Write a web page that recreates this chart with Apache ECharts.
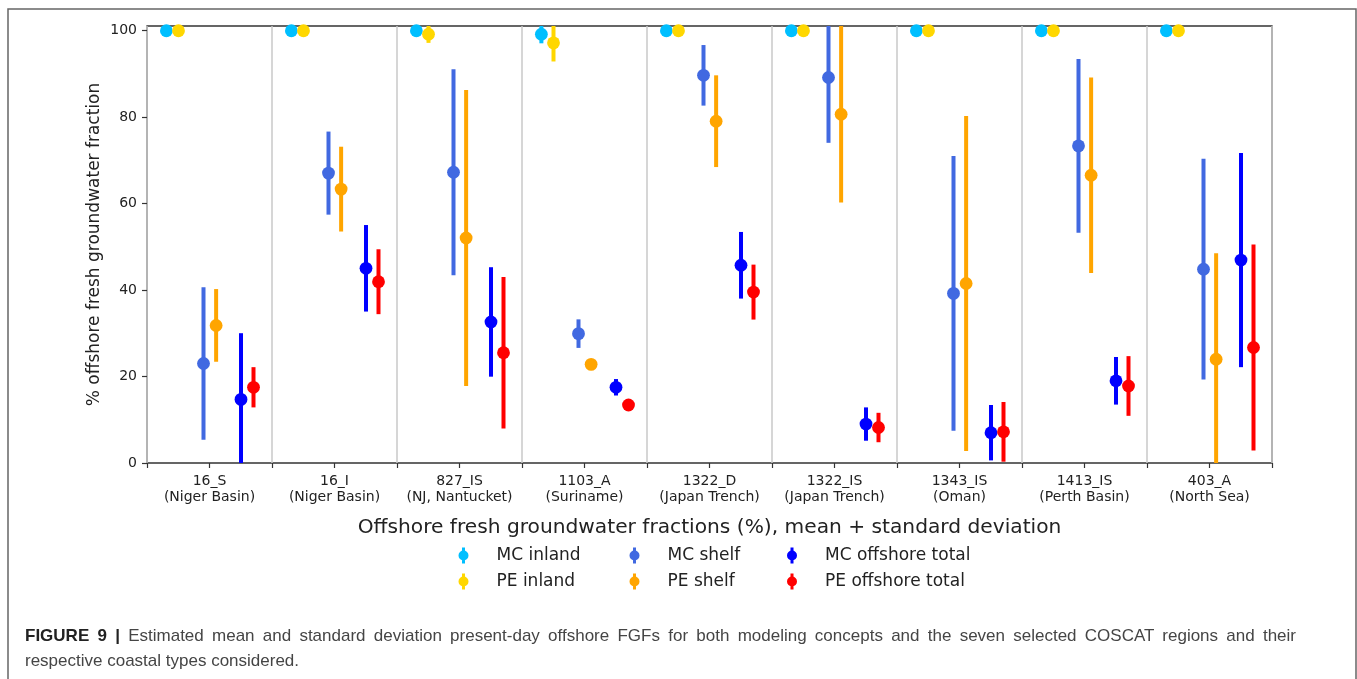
<!DOCTYPE html>
<html>
<head>
<meta charset="utf-8">
<script src="https://cdn.jsdelivr.net/npm/echarts@6/dist/echarts.min.js"></script>
<style>
html,body{margin:0;padding:0;background:#fff;}
#wrap{position:relative;width:1357px;height:679px;overflow:hidden;}
#chart{width:1357px;height:679px;}
#caption{position:absolute;left:25px;top:623px;width:1271px;font-family:"Liberation Sans",Arial,sans-serif;font-size:17px;line-height:25px;color:#454545;}
#caption .l1{display:block;text-align:justify;text-align-last:justify;white-space:normal;}
#caption .l2{display:block;white-space:nowrap;}
#caption b{color:#222;}
</style>
</head>
<body>
<div id="wrap">
<div id="chart"></div>
<div id="caption"><span class="l1"><b>FIGURE 9 |</b> Estimated mean and standard deviation present-day offshore FGFs for both modeling concepts and the seven selected COSCAT regions and their</span><span class="l2">respective coastal types considered.</span></div>
</div>
<script>
// ---- data ----
const categories = ['16_S\n(Niger Basin)', '16_I\n(Niger Basin)', '827_IS\n(NJ, Nantucket)', '1103_A\n(Suriname)',
  '1322_D\n(Japan Trench)', '1322_IS\n(Japan Trench)', '1343_IS\n(Oman)', '1413_IS\n(Perth Basin)', '403_A\n(North Sea)'];
const yTicks = [0, 20, 40, 60, 80, 100];

const mcInlandMean = [99.9, 99.9, 99.9, 99.1, 99.9, 99.9, 99.9, 99.9, 99.9];
const mcInlandSd   = [0, 0, 0, 2.1, 0, 0, 0, 0, 0];
const peInlandMean = [99.9, 99.9, 99.1, 97.1, 99.9, 99.9, 99.9, 99.9, 99.9];
const peInlandSd   = [0, 0, 2.0, 4.3, 0, 0, 0, 0, 0];
const mcShelfMean  = [23.0, 67.0, 67.2, 29.9, 89.6, 89.1, 39.2, 73.3, 44.8];
const mcShelfSd    = [17.6, 9.6, 23.8, 3.3, 7.0, 15.1, 31.75, 20.1, 25.5];
const peShelfMean  = [31.8, 63.3, 52.0, 22.8, 79.0, 80.6, 41.5, 66.5, 24.0];
const peShelfSd    = [8.4, 9.8, 34.2, 0.8, 10.6, 20.4, 38.7, 22.6, 24.5];
const mcOffMean    = [14.7, 45.0, 32.6, 17.5, 45.7, 9.0, 7.0, 19.0, 46.9];
const mcOffSd      = [15.3, 10.0, 12.65, 1.9, 7.7, 3.85, 6.4, 5.5, 24.75];
const peOffMean    = [17.5, 41.9, 25.5, 13.4, 39.5, 8.2, 7.2, 17.8, 26.7];
const peOffSd      = [4.65, 7.5, 17.5, 0.3, 6.35, 3.4, 6.9, 6.9, 23.8];

const yMin = 0, yMax = 101;

const seriesDefs = [
  {name: 'MC inland', color: '#00BFFF', mean: mcInlandMean, sd: mcInlandSd, offset: -0.345},
  {name: 'PE inland', color: '#FFD700', mean: peInlandMean, sd: peInlandSd, offset: -0.248},
  {name: 'MC shelf', color: '#4169E1', mean: mcShelfMean, sd: mcShelfSd, offset: -0.048},
  {name: 'PE shelf', color: '#FFA500', mean: peShelfMean, sd: peShelfSd, offset: 0.053},
  {name: 'MC offshore total', color: '#0000FF', mean: mcOffMean, sd: mcOffSd, offset: 0.252},
  {name: 'PE offshore total', color: '#FF0000', mean: peOffMean, sd: peOffSd, offset: 0.352}
];

const FONT = 'DejaVu Sans';
const legendIcon = 'path://M3.5,0 H6.5 V16 H3.5 Z M0,8 A5,5 0 1,1 10,8 A5,5 0 1,1 0,8 Z';

function makeSeries(def) {
  return {
    name: def.name,
    type: 'custom',
    xAxisIndex: 0,
    yAxisIndex: 0,
    itemStyle: {color: def.color},
    data: def.mean.map((m, i) => [i, m, def.sd[i]]),
    renderItem: function (params, api) {
      const i = api.value(0), m = api.value(1), s = api.value(2);
      const bw = api.size([1, 0])[0];
      const c = api.coord([i, m]);
      const x = c[0] + bw * def.offset;
      const lo = Math.max(yMin, m - s), hi = Math.min(yMax, m + s);
      const pLo = api.coord([i, lo]), pHi = api.coord([i, hi]);
      const children = [];
      if (s > 0) {
        children.push({type: 'line', shape: {x1: x, y1: pLo[1], x2: x, y2: pHi[1]},
          style: {stroke: def.color, lineWidth: 4}});
      }
      children.push({type: 'circle', shape: {cx: x, cy: c[1], r: 6.4}, style: {fill: def.color}});
      return {type: 'group', children: children};
    }
  };
}

function makeLegend(names, left) {
  return {
    data: names.map(n => ({name: n, icon: legendIcon})),
    orient: 'vertical',
    left: left,
    top: 547,
    padding: 0,
    itemWidth: 10,
    itemHeight: 16,
    itemGap: 9,
    textStyle: {fontFamily: FONT, fontSize: 17, color: '#222', padding: [0, 0, 0, 23]}
  };
}

const chart = echarts.init(document.getElementById('chart'), null, {renderer: 'canvas'});
const option = {
  animation: false,
  backgroundColor: '#fff',
  grid: {left: 147, right: 85, top: 26, bottom: 216, show: true, borderColor: '#333', borderWidth: 1.3, backgroundColor: 'transparent'},
  xAxis: [
    {type: 'category', data: categories, boundaryGap: true, position: 'bottom',
      axisLine: {show: false}, axisLabel: {show: false},
      axisTick: {show: true, length: 5, lineStyle: {color: '#333', width: 1.2}},
      splitLine: {show: true, lineStyle: {color: '#c8c8c8', width: 1.5}}},
    {type: 'category', data: categories, boundaryGap: true, position: 'bottom', gridIndex: 0,
      axisLine: {show: false},
      axisTick: {show: true, alignWithLabel: true, length: 5, lineStyle: {color: '#333', width: 1.2}},
      axisLabel: {show: true, interval: 0, fontFamily: FONT, fontSize: 14, color: '#222', lineHeight: 16, margin: 10},
      splitLine: {show: false}}
  ],
  yAxis: {
    type: 'value', min: yMin, max: yMax,
    axisLine: {show: false},
    splitLine: {show: false},
    axisTick: {show: true, length: 5, customValues: yTicks, lineStyle: {color: '#333', width: 1.2}},
    axisLabel: {customValues: yTicks, fontFamily: FONT, fontSize: 14, color: '#222', margin: 10},
    name: '% offshore fresh groundwater fraction',
    nameLocation: 'middle',
    nameGap: 44,
    nameMoveOverlap: false,
    nameRotate: 90,
    nameTextStyle: {fontFamily: FONT, fontSize: 17, color: '#222'}
  },
  legend: [
    makeLegend(['MC inland', 'PE inland'], 458.5),
    makeLegend(['MC shelf', 'PE shelf'], 629.5),
    makeLegend(['MC offshore total', 'PE offshore total'], 787)
  ],
  series: seriesDefs.map(makeSeries),
  graphic: [
    {type: 'rect', silent: true, shape: {x: 8, y: 9, width: 1348, height: 700},
      style: {fill: 'none', stroke: '#666', lineWidth: 1.5}},
    {type: 'text', silent: true, x: 709.5, y: 528,
      style: {text: 'Offshore fresh groundwater fractions (%), mean + standard deviation',
        font: '20.2px "DejaVu Sans"', fill: '#222', align: 'center', verticalAlign: 'middle'}}
  ]
};
chart.setOption(option);
</script>
</body>
</html>
